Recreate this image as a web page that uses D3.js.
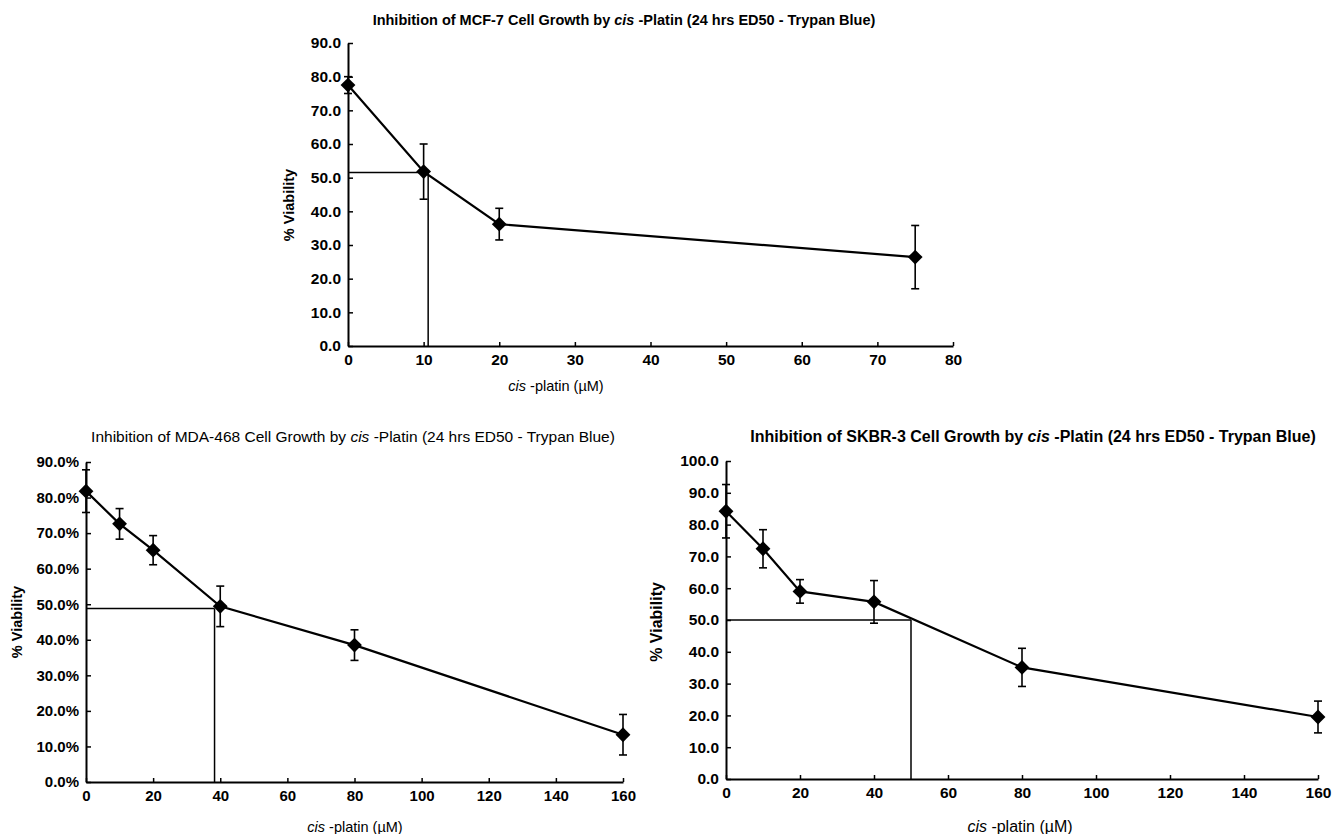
<!DOCTYPE html>
<html>
<head>
<meta charset="utf-8">
<script src="https://cdn.jsdelivr.net/npm/d3@7"></script>
<style>
  body { margin: 0; background: #fff; }
  svg { display: block; font-family: "Liberation Sans", Arial, sans-serif; }
  .domain { stroke: #000; stroke-width: 2px; }
  .tick line { stroke: #000; stroke-width: 1.5px; }
  .tick text { fill: #000; font-weight: bold; }
</style>
</head>
<body>
<div id="chart"></div>
<script>
// MCF-7
const mcfDose = [0, 10, 20, 75];
const mcfViability = [77.5, 51.8, 36.2, 26.4];
const mcfError = [2.5, 8.2, 4.7, 9.4];
const mcfEd50 = [10.6, 51.5];
const mcfXTicks = [0, 10, 20, 30, 40, 50, 60, 70, 80];
const mcfYTicks = [0, 10, 20, 30, 40, 50, 60, 70, 80, 90];

// MDA-468 (fractions, shown as %)
const mdaDose = [0, 10, 20, 40, 80, 160];
const mdaViability = [0.818, 0.726, 0.652, 0.494, 0.385, 0.133];
const mdaError = [0.06, 0.043, 0.041, 0.057, 0.043, 0.057];
const mdaEd50 = [38.3, 0.488];
const mdaXTicks = [0, 20, 40, 60, 80, 100, 120, 140, 160];
const mdaYTicks = [0, 0.1, 0.2, 0.3, 0.4, 0.5, 0.6, 0.7, 0.8, 0.9];

// SKBR-3
const skbrDose = [0, 10, 20, 40, 80, 160];
const skbrViability = [84.2, 72.4, 59.0, 55.7, 35.1, 19.5];
const skbrError = [8.4, 6.0, 3.7, 6.7, 6.0, 5.0];
const skbrEd50 = [50, 50];
const skbrXTicks = [0, 20, 40, 60, 80, 100, 120, 140, 160];
const skbrYTicks = [0, 10, 20, 30, 40, 50, 60, 70, 80, 90, 100];

const svg = d3.select("#chart").append("svg")
    .attr("width", 1333)
    .attr("height", 834);

function drawPanel(p) {
    const x = d3.scaleLinear().domain(p.xDomain).range([p.left, p.right]);
    const y = d3.scaleLinear().domain(p.yDomain).range([p.bottom, p.top]);
    const g = svg.append("g");

    // titol
    const t = g.append("text")
        .attr("x", p.titleX)
        .attr("y", p.titleY)
        .attr("text-anchor", "middle")
        .style("font-size", p.titleSize + "px")
        .style("font-weight", p.titleWeight);
    t.append("tspan").text(p.titlePre);
    t.append("tspan").style("font-style", "italic").text("cis");
    t.append("tspan").text(" -Platin (24 hrs ED50 - Trypan Blue)");

    // eixos
    g.append("g")
        .attr("transform", `translate(0, ${p.bottom})`)
        .call(d3.axisBottom(x).tickValues(p.xTicks).tickSizeInner(-4).tickSizeOuter(0).tickPadding(8)
            .tickFormat(d3.format("d")))
        .selectAll("text")
        .style("font-size", p.tickSize + "px");

    g.append("g")
        .attr("transform", `translate(${p.left}, 0)`)
        .call(d3.axisLeft(y).tickValues(p.yTicks).tickSizeInner(-5).tickSizeOuter(0).tickPadding(7)
            .tickFormat(p.yFormat))
        .selectAll("text")
        .style("font-size", p.tickSize + "px");

    // titols dels eixos
    g.append("text")
        .attr("transform", `translate(${p.yLabelX}, ${p.yLabelY}) rotate(-90)`)
        .attr("text-anchor", "middle")
        .style("font-size", p.labelSize + "px")
        .style("font-weight", "bold")
        .text("% Viability");

    const xl = g.append("text")
        .attr("x", p.xLabelX)
        .attr("y", p.xLabelY)
        .attr("text-anchor", "middle")
        .style("font-size", p.labelSize + "px");
    xl.append("tspan").style("font-style", "italic").text("cis");
    xl.append("tspan").text(" -platin (\u00B5M)");

    // linies ED50
    g.append("line")
        .attr("x1", x(0)).attr("x2", x(p.ed50[0]))
        .attr("y1", y(p.ed50[1])).attr("y2", y(p.ed50[1]))
        .attr("stroke", "#000").attr("stroke-width", 1.5);
    g.append("line")
        .attr("x1", x(p.ed50[0])).attr("x2", x(p.ed50[0]))
        .attr("y1", y(p.ed50[1])).attr("y2", y(0))
        .attr("stroke", "#000").attr("stroke-width", 1.5);

    const data = p.dose.map((d, i) => ({dose: d, v: p.viability[i], e: p.error[i]}));

    // linia de dades
    g.append("path")
        .datum(data)
        .attr("fill", "none")
        .attr("stroke", "#000")
        .attr("stroke-width", 2.2)
        .attr("d", d3.line().x(d => x(d.dose)).y(d => y(d.v)));

    // barres d'error
    const eb = g.selectAll(".err").data(data).enter().append("g").attr("class", "err")
        .attr("stroke", "#000").attr("stroke-width", 1.6);
    eb.append("line")
        .attr("x1", d => x(d.dose)).attr("x2", d => x(d.dose))
        .attr("y1", d => y(d.v - d.e)).attr("y2", d => y(d.v + d.e));
    eb.append("line")
        .attr("x1", d => x(d.dose) - 4).attr("x2", d => x(d.dose) + 4)
        .attr("y1", d => y(d.v + d.e)).attr("y2", d => y(d.v + d.e));
    eb.append("line")
        .attr("x1", d => x(d.dose) - 4).attr("x2", d => x(d.dose) + 4)
        .attr("y1", d => y(d.v - d.e)).attr("y2", d => y(d.v - d.e));

    // marcadors (rombes)
    g.selectAll(".pt").data(data).enter().append("path")
        .attr("class", "pt")
        .attr("transform", d => `translate(${x(d.dose)}, ${y(d.v)}) rotate(45)`)
        .attr("d", d3.symbol(d3.symbolSquare, 110))
        .attr("fill", "#000");
}

drawPanel({
    titlePre: "Inhibition of MCF-7 Cell Growth by ", titleX: 624, titleY: 25, titleSize: 14.5, titleWeight: "bold",
    left: 348, right: 953, top: 43, bottom: 346,
    xDomain: [0, 80], yDomain: [0, 90],
    xTicks: mcfXTicks, yTicks: mcfYTicks, yFormat: d3.format(".1f"), tickSize: 15.5, labelSize: 14.5,
    dose: mcfDose, viability: mcfViability, error: mcfError, ed50: mcfEd50,
    yLabelX: 294, yLabelY: 205, xLabelX: 556, xLabelY: 391
});

drawPanel({
    titlePre: "Inhibition of MDA-468 Cell Growth by ", titleX: 353, titleY: 442, titleSize: 15.5, titleWeight: "normal",
    left: 86, right: 623, top: 462, bottom: 782,
    xDomain: [0, 160], yDomain: [0, 0.9],
    xTicks: mdaXTicks, yTicks: mdaYTicks, yFormat: d3.format(".1%"), tickSize: 15, labelSize: 14.5,
    dose: mdaDose, viability: mdaViability, error: mdaError, ed50: mdaEd50,
    yLabelX: 22, yLabelY: 622, xLabelX: 355, xLabelY: 832
});

drawPanel({
    titlePre: "Inhibition of SKBR-3 Cell Growth by ", titleX: 1033, titleY: 442, titleSize: 16, titleWeight: "bold",
    left: 726, right: 1318, top: 461, bottom: 779,
    xDomain: [0, 160], yDomain: [0, 100],
    xTicks: skbrXTicks, yTicks: skbrYTicks, yFormat: d3.format(".1f"), tickSize: 15.5, labelSize: 16,
    dose: skbrDose, viability: skbrViability, error: skbrError, ed50: skbrEd50,
    yLabelX: 662, yLabelY: 622, xLabelX: 1020, xLabelY: 832
});
</script>
</body>
</html>
